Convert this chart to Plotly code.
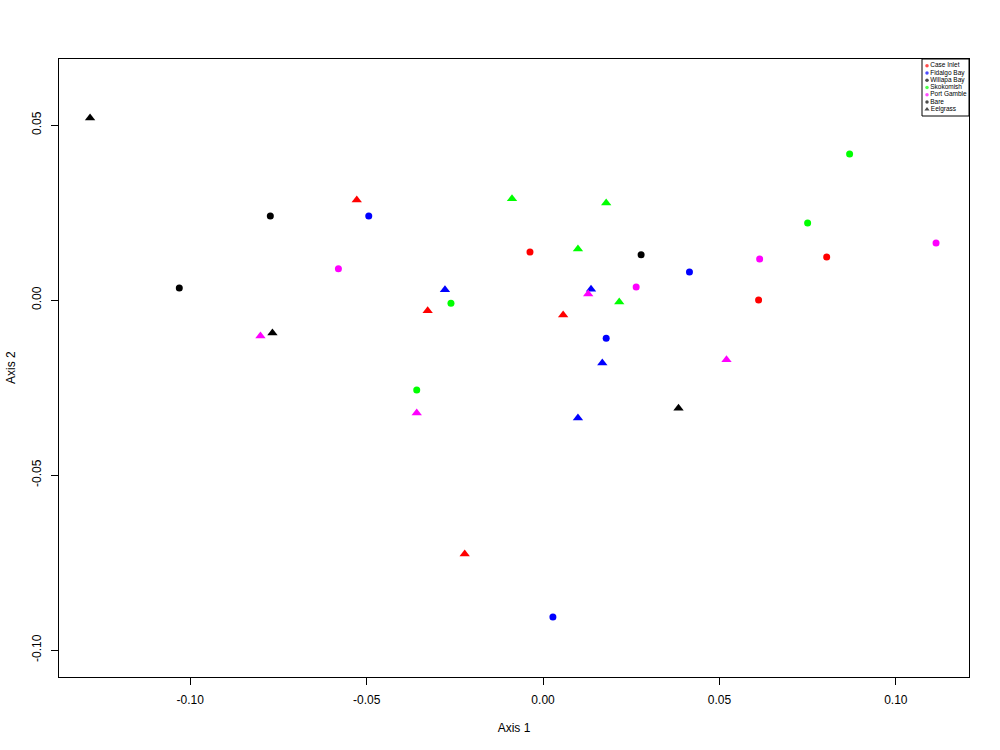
import plotly.graph_objects as go

# ---- data ----
sites = ["Case Inlet", "Fidalgo Bay", "Willapa Bay", "Skokomish", "Port Gamble"]
site_colors = ["#FF0000", "#0000FF", "#000000", "#00FF00", "#FF00FF"]

bare_x = {
    "Case Inlet": [-0.0037, 0.0611, 0.0804],
    "Fidalgo Bay": [-0.0494, 0.0415, 0.0179, 0.0028],
    "Willapa Bay": [-0.1031, -0.0773, 0.0278],
    "Skokomish": [-0.0261, -0.0358, 0.0750, 0.0869],
    "Port Gamble": [-0.0580, 0.0264, 0.0614, 0.1114],
}
bare_y = {
    "Case Inlet": [0.0137, 0.0000, 0.0123],
    "Fidalgo Bay": [0.0240, 0.0080, -0.0109, -0.0906],
    "Willapa Bay": [0.0034, 0.0240, 0.0129],
    "Skokomish": [-0.0009, -0.0257, 0.0220, 0.0417],
    "Port Gamble": [0.0089, 0.0037, 0.0117, 0.0163],
}
eel_x = {
    "Case Inlet": [-0.0528, -0.0327, 0.0057, -0.0222],
    "Fidalgo Bay": [-0.0278, 0.0136, 0.0168, 0.0099],
    "Willapa Bay": [-0.1284, -0.0767, 0.0384],
    "Skokomish": [-0.0088, 0.0179, 0.0099, 0.0216],
    "Port Gamble": [-0.0801, 0.0128, -0.0358, 0.0520],
}
eel_y = {
    "Case Inlet": [0.0286, -0.0031, -0.0043, -0.0726],
    "Fidalgo Bay": [0.0029, 0.0031, -0.0180, -0.0337],
    "Willapa Bay": [0.0520, -0.0094, -0.0309],
    "Skokomish": [0.0289, 0.0277, 0.0146, -0.0006],
    "Port Gamble": [-0.0103, 0.0017, -0.0323, -0.0171],
}

legend_labels = sites + ["Bare", "Eelgrass"]
legend_colors = site_colors + ["#000000", "#000000"]
legend_symbols = ["circle"] * 6 + ["triangle-up"]

x_ticks = [-0.10, -0.05, 0.00, 0.05, 0.10]
y_ticks = [-0.10, -0.05, 0.00, 0.05]
x_range = [-0.13720, 0.12074]
y_range = [-0.10771, 0.06886]

FONT = "Liberation Sans, Arial, Helvetica, sans-serif"

fig = go.Figure()
for s, c in zip(sites, site_colors):
    fig.add_trace(go.Scatter(x=bare_x[s], y=bare_y[s], mode="markers",
                             marker=dict(symbol="circle", size=7, color=c, line=dict(width=0)),
                             showlegend=False, name=s + " Bare"))
    fig.add_trace(go.Scatter(x=eel_x[s], y=eel_y[s], mode="markers",
                             marker=dict(symbol="triangle-up", size=9, color=c, line=dict(width=0)),
                             showlegend=False, name=s + " Eelgrass"))

# legend drawn in a small inset axis
n = len(legend_labels)
fig.add_trace(go.Scatter(
    x=[0.0] * n, y=list(range(n, 0, -1)), mode="markers+text",
    marker=dict(symbol=legend_symbols, size=[3.5] * 6 + [4.5], color=legend_colors, line=dict(width=0)),
    text=legend_labels, textposition="middle right",
    textfont=dict(family=FONT, size=6.5, color="#000000"),
    xaxis="x2", yaxis="y2", showlegend=False, hoverinfo="skip", cliponaxis=False))

# body margin removed via post_script, so figure pixels == page pixels
W, H = 1000, 750
L, R, T, B = 59, 31, 59, 73
pw, ph = W - L - R, H - T - B
lx0, lx1, ly0, ly1 = 922, 969, 59, 116
def px2paper_x(p): return (p - L) / pw
def px2paper_y(p): return 1 - (p - T) / ph

fig.update_layout(
    width=W, height=H,
    margin=dict(l=L, r=R, t=T, b=B),
    paper_bgcolor="white", plot_bgcolor="white",
    font=dict(family=FONT, size=12, color="#000000"),
    xaxis=dict(range=x_range, tickvals=x_ticks, ticktext=["-0.10", "-0.05", "0.00", "0.05", "0.10"],
               showgrid=False, zeroline=False, showline=True, mirror=True, linecolor="#000000", linewidth=1,
               ticks="outside", ticklen=7, tickcolor="#000000", tickfont=dict(size=12),
               ticklabelstandoff=5,
               title=dict(text="Axis 1", standoff=17, font=dict(size=12))),
    yaxis=dict(range=y_range, tickvals=y_ticks, ticktext=["-0.10", "-0.05", "0.00", "0.05"],
               showgrid=False, zeroline=False, showline=True, mirror=True, linecolor="#000000", linewidth=1,
               ticks="outside", ticklen=7, tickcolor="#000000", tickangle=-90, tickfont=dict(size=12),
               ticklabelstandoff=5),
    xaxis2=dict(domain=[px2paper_x(lx0 + 5), px2paper_x(lx1)], range=[0, 10], visible=False, fixedrange=True),
    yaxis2=dict(domain=[px2paper_y(ly1 - 3), px2paper_y(ly0 + 3)], range=[0.5, n + 0.5], visible=False,
                fixedrange=True, anchor="x2"),
    shapes=[dict(type="rect", xref="paper", yref="paper",
                 x0=px2paper_x(lx0), x1=px2paper_x(lx1), y0=px2paper_y(ly1), y1=px2paper_y(ly0),
                 line=dict(color="#000000", width=1), fillcolor="rgba(0,0,0,0)")],
    annotations=[dict(text="Axis 2", xref="paper", yref="paper", x=px2paper_x(11), y=0.5,
                      xanchor="center", yanchor="middle", textangle=-90, showarrow=False,
                      font=dict(family=FONT, size=12, color="#000000"))],
)
fig.update_layout(xaxis2_anchor="y2")

fig.write_html("out.html", config={"displayModeBar": False},
               post_script="document.body.style.margin='0px';")
